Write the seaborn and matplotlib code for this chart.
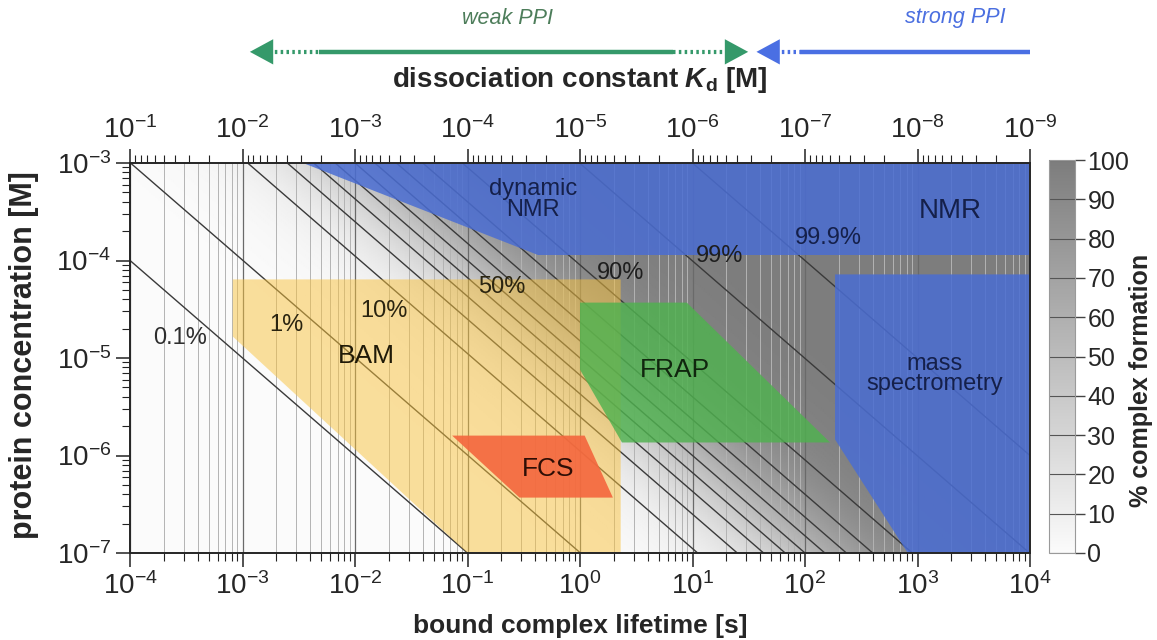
import numpy as np
import matplotlib
matplotlib.use("Agg")
import matplotlib.pyplot as plt
import matplotlib.ticker as mticker
import matplotlib.transforms as mtransforms
import seaborn as sns

# association rate linking lifetime and Kd: Kd = 1 / (KON * tau)
KON = 1e5

TAU_LIM = [1e-4, 1e4]
CONC_LIM = [1e-7, 1e-3]
KD_LIM = [1e-1, 1e-9]

# iso-lines of % complex formation
LEVELS = [0.1, 1, 10, 20, 30, 40, 50, 60, 70, 80, 90, 99, 99.9]
LEVEL_TEXT = ["0.1%", "1%", "10%", "50%", "90%", "99%", "99.9%"]
LEVEL_TAU = [2.8e-4, 2.44e-3, 1.8e-2, 0.203, 2.31, 17.5, 160]
LEVEL_CONC = [1.62e-5, 2.2e-5, 3.07e-5, 5.3e-5, 7.5e-5, 1.12e-4, 1.72e-4]
LEVEL_COLOR = ["#2e2e2e", "#2a2410", "#2a2410", "#2a2410", "#1e1e1e", "#1e1e1e", "#15204a"]

CBAR_TICKS = [0, 10, 20, 30, 40, 50, 60, 70, 80, 90, 100]

# method regions: lifetime [s] / concentration [M]
BAM_TAU = [8.2e-4, 2.3, 2.3, 0.1, 8.2e-4]
BAM_CONC = [6.4e-5, 6.4e-5, 1e-7, 1e-7, 1.66e-5]
FCS_TAU = [0.073, 1.1, 1.96, 0.29]
FCS_CONC = [1.6e-6, 1.6e-6, 3.7e-7, 3.7e-7]
FRAP_TAU = [1.0, 8.9, 167, 2.36, 1.0]
FRAP_CONC = [3.7e-5, 3.7e-5, 1.36e-6, 1.36e-6, 7.6e-6]
NMR_TAU = [3.45e-3, 1e4, 1e4, 0.42]
NMR_CONC = [1e-3, 1e-3, 1.15e-4, 1.15e-4]
MS_TAU = [185, 1e4, 1e4, 820, 185]
MS_CONC = [7.2e-5, 7.2e-5, 1e-7, 1e-7, 1.46e-6]

# label positions of the methods
METHOD_TEXT = ["dynamic\nNMR", "NMR", "BAM", "FRAP", "FCS", "mass\nspectrometry"]
METHOD_TAU = [0.382, 1945, 0.0126, 6.98, 0.52, 1430]
METHOD_CONC = [4.23e-4, 3.2e-4, 1.06e-5, 7.6e-6, 7.2e-7, 6.8e-6]
METHOD_SIZE = [17, 20, 19, 19, 19, 17]
METHOD_COLOR = ["#15204a", "#15204a", "#201a08", "#10260e", "#2e0e05", "#15204a"]

# PPI arrows on the Kd axis
WEAK_PPI_TIPS = [8.6e-3, 3.2e-7]
WEAK_PPI_SOLID = [2.1e-3, 1.5e-6]
STRONG_PPI_TIPS = [2.7e-7, 1e-9]
STRONG_PPI_SOLID = [1.1e-7, 1e-9]

sns.set_theme(style="ticks")
plt.rcParams["font.family"] = ["Liberation Sans", "DejaVu Sans"]
plt.rcParams["mathtext.fontset"] = "custom"
plt.rcParams["mathtext.rm"] = "Liberation Sans"
plt.rcParams["mathtext.it"] = "Liberation Sans:italic:bold"
plt.rcParams["mathtext.bf"] = "Liberation Sans:bold"

W, H = 1157, 640
fig = plt.figure(figsize=(W / 100, H / 100), dpi=100)
ax = fig.add_axes([130 / W, 87 / H, 900 / W, 390 / H])

# background field
tau = np.logspace(np.log10(TAU_LIM[0]), np.log10(TAU_LIM[1]), 500)
conc = np.logspace(np.log10(CONC_LIM[0]), np.log10(CONC_LIM[1]), 400)
TT, CC = np.meshgrid(tau, conc)
kd = 1.0 / (KON * TT)
complex_pct = 100 * CC / (CC + kd)

gray_cmap = sns.blend_palette(["#fbfbfb", "#7d7d7d"], as_cmap=True)
mesh = ax.pcolormesh(tau, conc, complex_pct, cmap=gray_cmap, vmin=0, vmax=100,
                     shading="gouraud", zorder=0.1, rasterized=True)
ax.contour(tau, conc, complex_pct, levels=LEVELS, colors="#3a3a3a",
           linewidths=1.0, zorder=0.6)

# method areas, semi transparent over the lines
ax.fill(BAM_TAU, BAM_CONC, color="#f9c23c", alpha=0.5, lw=0, zorder=1)
ax.fill(FRAP_TAU, FRAP_CONC, color="#4fb24f", alpha=0.82, lw=0, zorder=1.1)
ax.fill(FCS_TAU, FCS_CONC, color="#f4683f", alpha=0.92, lw=0, zorder=1.2)
ax.fill(NMR_TAU, NMR_CONC, color="#4a6dd3", alpha=0.85, lw=0, zorder=1.3)
ax.fill(MS_TAU, MS_CONC, color="#4a6dd3", alpha=0.85, lw=0, zorder=1.3)

for txt, t, c, col in zip(LEVEL_TEXT, LEVEL_TAU, LEVEL_CONC, LEVEL_COLOR):
    ax.text(t, c, txt, ha="center", va="center", fontsize=17, color=col, zorder=3)

for txt, t, c, s, col in zip(METHOD_TEXT, METHOD_TAU, METHOD_CONC, METHOD_SIZE, METHOD_COLOR):
    ax.text(t, c, txt, ha="center", va="center", fontsize=s, color=col,
            linespacing=0.9, zorder=3)

ax.set_xscale("log")
ax.set_yscale("log")
ax.set_xlim(TAU_LIM)
ax.set_ylim(CONC_LIM)
ax.set_axisbelow(True)
for a in (ax.xaxis, ax.yaxis):
    a.set_major_locator(mticker.LogLocator(base=10, numticks=20))
    a.set_minor_locator(mticker.LogLocator(base=10, subs=np.arange(2, 10), numticks=200))
    a.set_minor_formatter(mticker.NullFormatter())
ax.grid(which="major", axis="x", color="#6a6a6a", lw=0.9)
ax.grid(which="minor", axis="x", color="#b3b3b3", lw=0.7)
ax.tick_params(which="both", direction="out", top=False, right=False,
               labelsize=20, color="#222222")
ax.tick_params(which="major", length=10, width=1.1)
ax.tick_params(which="minor", length=5.5, width=0.8)
for sp in ax.spines.values():
    sp.set_color("#222222")
    sp.set_linewidth(1.2)

# top axis: dissociation constant
ax2 = ax.twiny()
ax2.set_xscale("log")
ax2.set_xlim(KD_LIM)
ax2.xaxis.set_major_locator(mticker.LogLocator(base=10, numticks=20))
ax2.xaxis.set_minor_locator(mticker.LogLocator(base=10, subs=np.arange(2, 10), numticks=200))
ax2.xaxis.set_minor_formatter(mticker.NullFormatter())
ax2.tick_params(which="both", direction="out", labelsize=20, color="#222222")
ax2.tick_params(which="major", length=10, width=1.1)
ax2.tick_params(which="minor", length=5.5, width=0.8)

# PPI arrows
trans = mtransforms.blended_transform_factory(ax2.transData, ax2.transAxes)
ya = 1.285


def ppi_arrow(tips, solid, color, left_head, right_head):
    ax2.plot(solid, [ya, ya], transform=trans, color=color, lw=3.2,
             solid_capstyle="butt", clip_on=False)
    dots = (0, (0.6, 0.8))
    head = dict(arrowstyle="-|>,head_length=1.2,head_width=0.65",
                color=color, lw=0, mutation_scale=14, shrinkA=0, shrinkB=0)
    if left_head:
        ax2.plot([tips[0] * 10 ** -0.17, solid[0]], [ya, ya], transform=trans,
                 color=color, lw=3, ls=dots, clip_on=False)
        ax2.annotate("", xy=(tips[0], ya), xytext=(tips[0] * 10 ** -0.3, ya),
                     xycoords=trans, textcoords=trans, arrowprops=head)
    if right_head:
        ax2.plot([solid[1], tips[1] * 10 ** 0.17], [ya, ya], transform=trans,
                 color=color, lw=3, ls=dots, clip_on=False)
        ax2.annotate("", xy=(tips[1], ya), xytext=(tips[1] * 10 ** 0.3, ya),
                     xycoords=trans, textcoords=trans, arrowprops=head)


ppi_arrow(WEAK_PPI_TIPS, WEAK_PPI_SOLID, "#35996a", True, True)
ppi_arrow(STRONG_PPI_TIPS, STRONG_PPI_SOLID, "#4a6fe3", True, False)

fig.text(507 / W, 1 - 18 / H, "weak PPI", ha="center", va="center", style="italic",
         fontsize=15.5, color="#4d7d5a")
fig.text(955 / W, 1 - 18 / H, "strong PPI", ha="center", va="center", style="italic",
         fontsize=15.5, color="#4b6fe0")

# axis labels
fig.text(580 / W, 1 - 80 / H, r"dissociation constant $K_\mathbf{d}$ [M]",
         ha="center", va="center", fontsize=20, fontweight="bold")
fig.text(580 / W, 1 - 626 / H, "bound complex lifetime [s]",
         ha="center", va="center", fontsize=19, fontweight="bold")
fig.text(24 / W, 1 - 355 / H, "protein concentration [M]", rotation=90,
         ha="center", va="center", fontsize=22, fontweight="bold")

# colorbar
cax = fig.add_axes([1049 / W, 87 / H, 26 / W, 393 / H])
cbar = fig.colorbar(mesh, cax=cax, ticks=CBAR_TICKS)
cbar.outline.set_edgecolor("#9a9a9a")
cbar.outline.set_linewidth(0.8)
cax.tick_params(labelsize=18, length=7, width=1, pad=2, color="#444444")
for t in CBAR_TICKS:
    cax.axhline(t, color="#555555", lw=0.8)
fig.text(1141 / W, 1 - 380 / H, "% complex formation", rotation=90,
         ha="center", va="center", fontsize=18, fontweight="bold")

fig.savefig("out.png", dpi=100)
